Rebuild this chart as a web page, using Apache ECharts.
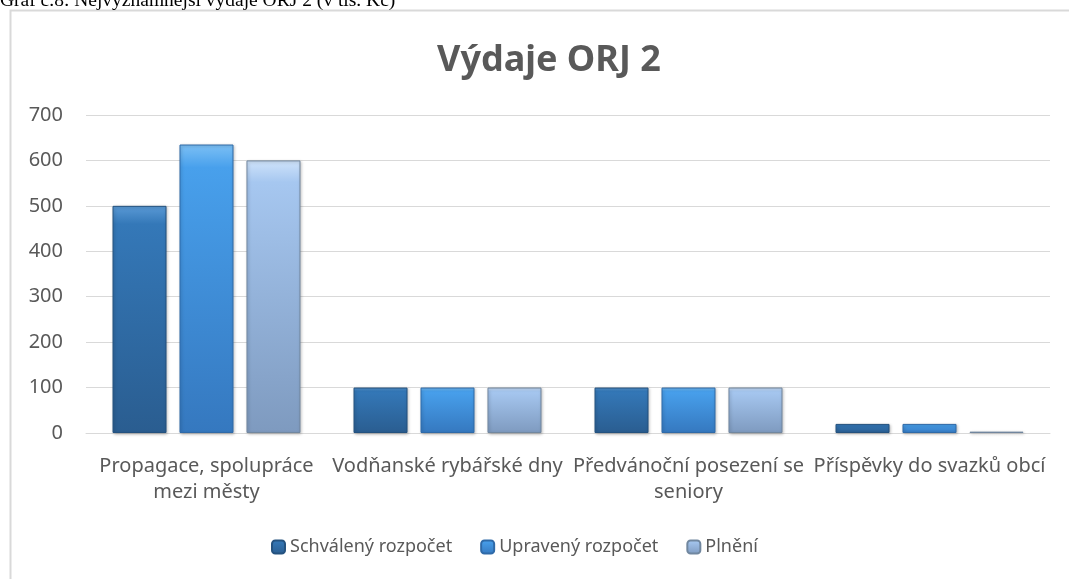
<!DOCTYPE html>
<html>
<head>
<meta charset="utf-8">
<script src="https://cdn.jsdelivr.net/npm/echarts@6/dist/echarts.min.js"></script>
<style>
  html, body { margin: 0; padding: 0; background: #fff; }
  #vydajeChart { width: 1069px; height: 579px; }
</style>
</head>
<body>
<div id="vydajeChart"></div>
<script>
  // data (tis. Kč)
  const categories = ['Propagace, spolupráce mezi městy', 'Vodňanské rybářské dny', 'Předvánoční posezení se seniory', 'Příspěvky do svazků obcí'];
  const tickLabels = ['Propagace, spolupráce\nmezi městy', 'Vodňanské rybářské dny', 'Předvánoční posezení se\nseniory', 'Příspěvky do svazků obcí'];
  const schvaleny = [500, 100, 100, 20];
  const upraveny = [635, 100, 100, 20];
  const plneni = [600, 100, 100, 3];
  const yTicks = [0, 100, 200, 300, 400, 500, 600, 700];

  const FONT = 'Noto Sans';

  function barStyle(top, mid, bottom, border) {
    return {
      color: new echarts.graphic.LinearGradient(0, 0, 0, 1, [
        {offset: 0, color: top},
        {offset: 0.08, color: mid},
        {offset: 1, color: bottom}
      ]),
      borderColor: border,
      borderWidth: 1,
      shadowColor: 'rgba(0,0,0,0.25)',
      shadowBlur: 3,
      shadowOffsetX: 1,
      shadowOffsetY: 1
    };
  }

  let chart = echarts.init(document.getElementById('vydajeChart'));
  chart.setOption({
    animation: false,
    backgroundColor: '#fff',
    textStyle: {fontFamily: FONT},
    graphic: [
      {
        type: 'rect',
        shape: {x: 10.5, y: 10.5, width: 1100, height: 600},
        style: {fill: 'none', stroke: '#d9d9d9', lineWidth: 2},
        silent: true
      },
      {
        type: 'text',
        left: 0,
        top: -9,
        style: {text: 'Graf č.8: Nejvýznamnější výdaje ORJ 2 (v tis. Kč)', font: '19.5px "Liberation Serif"', fill: '#000'},
        silent: true
      }
    ],
    title: {
      text: 'Výdaje ORJ 2',
      left: 432,
      top: 38,
      textStyle: {fontFamily: FONT, fontSize: 36, fontWeight: 'bold', color: '#595959'}
    },
    legend: {
      bottom: 18,
      left: 266,
      itemWidth: 13,
      itemHeight: 13,
      itemGap: 28,
      textStyle: {fontFamily: FONT, fontSize: 18, color: '#595959'},
      data: ['Schválený rozpočet', 'Upravený rozpočet', 'Plnění']
    },
    grid: {left: 86, right: 19, top: 115, bottom: 146},
    xAxis: {
      type: 'category',
      data: categories,
      axisLine: {lineStyle: {color: '#d9d9d9', width: 1}},
      axisTick: {show: false},
      axisLabel: {
        interval: 0,
        color: '#595959',
        fontSize: 20,
        lineHeight: 26,
        margin: 20,
        formatter: function (val, idx) { return tickLabels[idx]; }
      }
    },
    yAxis: {
      type: 'value',
      min: yTicks[0],
      max: yTicks[yTicks.length - 1],
      interval: 100,
      axisLine: {show: false},
      axisTick: {show: false},
      axisLabel: {color: '#595959', fontSize: 20, margin: 23},
      splitLine: {lineStyle: {color: '#d9d9d9', width: 1}}
    },
    series: [
      {
        name: 'Schválený rozpočet',
        type: 'bar',
        barGap: '24%',
        barCategoryGap: '22%',
        data: schvaleny,
        color: '#2f6fab',
        itemStyle: barStyle('#5a9ad6', '#3478b8', '#2a5d90', '#24527f')
      },
      {
        name: 'Upravený rozpočet',
        type: 'bar',
        barGap: '24%',
        barCategoryGap: '22%',
        data: upraveny,
        color: '#3d8ad6',
        itemStyle: barStyle('#7cc0f5', '#48a0ec', '#3578bf', '#2f6aa8')
      },
      {
        name: 'Plnění',
        type: 'bar',
        barGap: '24%',
        barCategoryGap: '22%',
        data: plneni,
        color: '#95b3da',
        itemStyle: barStyle('#cfe3fa', '#a6c7f0', '#7e9abf', '#71879f')
      }
    ]
  });
</script>
</body>
</html>
